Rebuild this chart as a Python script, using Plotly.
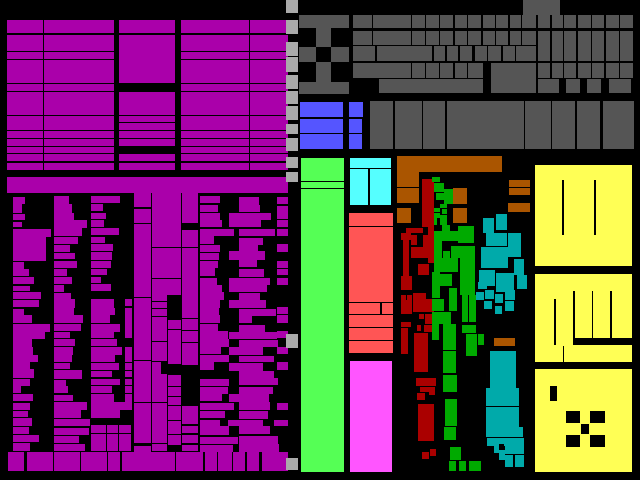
import plotly.graph_objects as go

# ---------------- data (rectangles as x0, y0, x1, y1 in picture units) ----------------
top_rows = [(20,33),(35,51),(52,59),(60,83),(84,91),(92,115),(116,130),(131,138),(139,146),(147,153),(154,161),(163,170)]
top_cols = [(7,43),(44,114),(181,249),(250,288)]
mid_rows = [(20,33),(35,83),(92,115),(116,122),(123,130),(131,138),(139,146),(154,161),(163,170)]
mid_col = (119,175)
band = (7,177,288,193)

colA_left = 13
colA = [(197,204,25),(204,213,22),(214,220,25),(222,227,22),(229,237,51),(237,261,46),(262,269,24),(269,276,29),(277,284,34),(286,291,30),(292,299,41),(300,307,39),(309,315,24),(315,323,32),(324,332,50),(332,339,45),(339,347,32),(347,355,33),(355,362,38),(362,369,30),(369,378,34),(379,386,30),(386,393,21),(394,401,33),(403,410,30),(411,417,28),(418,426,32),(427,434,29),(435,442,39),(443,451,30)]
colB_left = 54
colB = [(196,204,69),(204,213,72),(213,220,74),(220,228,87),(228,236,82),(237,244,78),(245,252,70),(253,259,75),(261,268,77),(269,276,67),(277,284,72),(285,292,64),(293,299,71),(299,308,75),(308,315,74),(315,323,83),(324,331,81),(332,338,70),(339,346,75),(347,355,73),(355,362,72),(363,369,70),(370,379,82),(380,386,66),(386,393,68),(395,401,73),(402,410,87),(410,418,81),(419,426,90),(428,435,89),(436,443,79),(444,451,85)]
colC_left = 91
colC = [(196,203,120),(204,211,103),(213,219,106),(220,227,104),(228,235,119),(237,243,105),(244,251,113),(252,260,112),(261,268,111),(269,275,107),(277,283,101),(284,291,111),(299,308,114),(308,315,115),(315,323,110),(324,332,120),(332,338,114),(339,346,117),(347,355,122),(355,362,115),(363,370,119),(371,377,112),(379,385,120),(386,393,112),(394,402,114),(402,410,132),(410,418,120)]
colC_small = [(299,306),(308,338),(347,362),(363,370),(371,377),(379,385),(386,393),(394,402)]
colC_small_x = (125,132)
colC_foot_rows = [(425,433),(434,451)]
colC_foot_cols = [(91,106),(107,118),(119,131)]
colD_x = (134,151)
colD = [(193,207),(209,223),(224,297),(298,360),(361,402),(403,443),(446,452)]
colE_x = (152,181)
colE = [(193,247),(248,278),(279,295)]
colE_lx = (152,167)
colE_l = [(295,301),(302,308),(309,316),(317,341),(342,361),(362,402),(403,443),(444,451)]
colE_rx = (168,181)
colE_r = [(320,329),(330,364),(375,386),(387,396),(397,405),(406,420),(421,434),(435,445)]
colF_x = (182,198)
colF = [(193,223),(230,247),(248,318),(319,330),(331,342),(343,365),(406,416),(416,424),(426,433),(435,443),(445,451)]
colG_left = 200
colG = [(196,203,220),(205,212,218),(213,220,220),(220,227,222),(229,236,234),(236,244,214),(245,252,220),(253,260,219),(261,268,218),(268,276,215),(278,285,217),(285,292,222),(292,300,224),(300,308,220),(308,315,219),(315,323,220),(324,331,218),(331,339,228),(339,347,229),(347,354,221),(355,362,229),(362,370,214),(379,386,229),(387,394,228),(394,401,222),(403,410,234),(411,418,225),(420,426,220),(426,435,229),(437,444,238),(445,452,233)]
colH = [(197,205,239,259),(205,212,239,260),(213,220,229,271),(220,227,229,261),(229,236,239,275),(238,245,239,263),(245,253,239,258),(251,260,229,265),(260,267,239,257),(269,277,239,264),(278,285,229,270),(285,292,229,267),(293,300,239,260),(300,308,229,266),(309,316,239,276),(316,323,239,252),(325,332,239,265),(332,339,229,277),(340,347,239,278),(347,355,229,263),(356,362,239,274),(363,371,229,263),(371,378,239,274),(378,385,239,278),(387,394,239,273),(394,402,229,269),(402,410,239,270),(411,419,239,268),(420,426,228,263),(426,434,239,270),(436,444,239,278),(444,452,239,279)]
colI_x = (277,288)
colI = [(197,204),(206,219),(220,227),(229,236),(244,252),(261,268),(269,275),(278,285),(307,314),(315,323),(331,338),(347,354),(362,370),(403,410)]
colI_extra = [(274,420,288,426)]
foot_y = (452,471)
foot_cols = [(8,24),(27,53),(54,80),(81,107),(108,120),(122,175),(176,203),(205,217),(218,232),(233,245),(247,259),(262,288)]

lgray_x = (286,298)
lgray = [(0,13),(20,34),(42,56),(57,72),(75,89),(91,104),(106,120),(124,134),(138,151),(157,168),(172,182),(334,348),(458,470)]

dgray_fixed = [(299,15,349,28),(316,28,331,47),(299,47,316,62),(331,47,349,62),(316,62,331,82),(299,82,349,94),(523,0,560,15),(491,63,536,93)]
grid_cols = [(353,372),(373,411),(412,425),(426,439),(440,453),(455,467),(468,481),(483,495),(496,508),(510,521),(522,536),(538,550),(552,563),(564,576),(578,591),(592,604),(606,619),(620,633)]
row3_cols = [(353,375),(377,432),(434,445),(447,458),(460,472),(475,487),(488,501),(503,515),(516,536)]
row4_cols = [(353,411),(412,425),(426,439),(440,453),(455,467),(468,483)]
row5_cols = [(379,483),(538,559),(566,580),(587,601),(609,631)]
row6_cols = [(370,393),(395,422),(423,445),(447,524),(525,551),(552,575),(577,600),(603,634)]

blue = [(300,102,343,117),(300,119,343,133),(300,134,343,149),(349,102,363,117),(349,119,362,133),(349,134,362,149)]
lgreen = [(301,158,344,181),(301,182,344,188),(301,189,344,472)]
cyan = [(350,158,391,168),(350,169,368,205),(370,169,391,205)]
salmon = [(349,213,393,226),(349,227,393,302),(349,303,380,314),(382,303,393,314),(349,315,393,327),(349,328,393,340),(349,341,393,353)]
pink = [(350,361,392,472)]
yellow = [(535,165,632,266),(535,274,632,362),(535,369,632,472)]
brown = [(397,156,502,172),(397,172,419,187),(397,188,419,203),(397,208,411,223),(453,188,467,204),(453,208,467,223),(509,180,530,187),(509,188,530,195),(508,203,530,212),(494,338,515,346)]
darkred = [(422,179,434,205),(422,205,434,227),(428,227,434,257),(411,247,434,258),(406,228,423,233),(401,233,411,240),(411,235,417,245),(423,235,434,247),(403,240,409,277),(418,264,429,275),(401,276,412,290),(428,258,434,263),
           (401,295,406,310),(407,295,412,310),(413,293,426,310),(426,299,434,310),(401,300,412,314),(413,300,434,312),(419,314,424,319),(425,314,434,324),(401,322,411,327),(401,328,408,354),(417,325,421,331),(424,325,434,332),
           (414,333,428,372),(416,378,436,386),(420,387,435,392),(429,387,435,395),(417,393,425,400),(418,404,434,441),(422,452,429,459),(430,449,436,456)]
dgreen = [(432,177,440,182),(434,183,444,192),(436,193,444,200),(444,189,453,204),(440,204,447,208),(434,208,440,212),(442,209,447,214),(434,213,440,218),(440,215,447,225),(434,218,437,225),(442,225,450,231),(434,231,458,241),(458,226,474,243),
          (434,241,442,258),(451,246,475,258),(443,251,450,258),(434,258,458,272),(460,258,475,295),(432,272,440,298),(440,274,452,286),(449,288,457,311),(462,295,468,322),(469,295,476,322),(432,299,444,311),
          (432,312,451,324),(432,324,439,340),(443,324,456,350),(443,351,456,373),(443,375,457,392),(462,325,476,333),(466,334,477,356),(478,334,484,345),(445,399,457,426),(444,427,456,440),(450,447,461,460),(449,461,456,471),(459,461,466,471),(469,461,481,471)]
teal = [(483,218,494,233),(496,214,507,230),(486,233,507,246),(508,233,521,257),(481,247,508,268),(514,259,524,275),(479,270,495,286),(496,273,514,292),(517,275,527,289),(478,282,487,289),
        (476,292,484,300),(485,290,494,299),(495,294,503,303),(505,290,515,300),(484,301,492,309),(495,306,502,314),(505,301,514,311),
        (490,351,516,388),(486,388,519,406),(486,407,519,427),(486,427,523,437),(487,438,524,446),(494,444,504,453),(505,446,524,454),(499,450,505,460),(505,455,513,467),(515,455,524,467)]
holes = [(562,180,564,235),(594,180,596,235),(554,299,556,345),(573,291,575,345),(592,291,593,338),(610,291,612,338),(573,338,632,345),(563,346,564,362),
         (550,386,557,401),(566,411,580,423),(590,411,605,423),(581,424,589,434),(566,435,580,447),(590,435,605,447),(499,444,504,450),(161,362,167,374)]

# ---------------- build rectangle groups ----------------
purple = []
for y0, y1 in top_rows:
    for x0, x1 in top_cols:
        purple.append((x0, y0, x1, y1))
for y0, y1 in mid_rows:
    purple.append((mid_col[0], y0, mid_col[1], y1))
purple.append(band)
for left, col in ((colA_left, colA), (colB_left, colB), (colC_left, colC), (colG_left, colG)):
    for y0, y1, r in col:
        purple.append((left, y0, r, y1))
for y0, y1 in colC_small:
    purple.append((colC_small_x[0], y0, colC_small_x[1], y1))
for y0, y1 in colC_foot_rows:
    for x0, x1 in colC_foot_cols:
        purple.append((x0, y0, x1, y1))
for xs, col in ((colD_x, colD), (colE_x, colE), (colE_lx, colE_l), (colE_rx, colE_r), (colF_x, colF), (colI_x, colI)):
    for y0, y1 in col:
        purple.append((xs[0], y0, xs[1], y1))
for y0, y1, x0, x1 in colH:
    purple.append((x0, y0, x1, y1))
purple += colI_extra
for x0, x1 in foot_cols:
    purple.append((x0, foot_y[0], x1, foot_y[1]))

light = [(lgray_x[0], y0, lgray_x[1], y1) for y0, y1 in lgray]

dark = list(dgray_fixed)
for x0, x1 in grid_cols:
    dark.append((x0, 15, x1, 28))
for x0, x1 in grid_cols[:11]:
    dark.append((x0, 31, x1, 45))
for x0, x1 in grid_cols[11:]:
    dark.append((x0, 31, x1, 61))
    dark.append((x0, 63, x1, 78))
for x0, x1 in row3_cols:
    dark.append((x0, 46, x1, 61))
for x0, x1 in row4_cols:
    dark.append((x0, 63, x1, 78))
for x0, x1 in row5_cols:
    dark.append((x0, 79, x1, 93))
for x0, x1 in row6_cols:
    dark.append((x0, 101, x1, 149))

groups = [
    (purple, "#AA00AA"), (light, "#AAAAAA"), (dark, "#555555"), (blue, "#5555FF"),
    (lgreen, "#55FF55"), (cyan, "#55FFFF"), (salmon, "#FF5555"), (pink, "#FF55FF"),
    (yellow, "#FFFF55"), (brown, "#AA5500"), (darkred, "#AA0000"), (dgreen, "#00AA00"),
    (teal, "#00AAAA"), (holes, "#000000"),
]

fig = go.Figure()
for rects, color in groups:
    xs, ys = [], []
    for x0, y0, x1, y1 in rects:
        xs += [x0, x1, x1, x0, x0, None]
        ys += [y0, y0, y1, y1, y0, None]
    fig.add_trace(go.Scatter(x=xs, y=ys, mode="lines", fill="toself", fillcolor=color,
                             line=dict(width=0, color=color), hoverinfo="skip", showlegend=False))

fig.update_layout(
    width=640, height=480, margin=dict(l=0, r=0, t=0, b=0),
    paper_bgcolor="black", plot_bgcolor="black",
    xaxis=dict(range=[0, 640], visible=False, fixedrange=True),
    yaxis=dict(range=[480, 0], visible=False, fixedrange=True),
)
fig.write_html("out.html", config={"displayModeBar": False},
               post_script="document.body.style.margin='0';document.body.style.background='black';document.body.style.overflow='hidden';")
